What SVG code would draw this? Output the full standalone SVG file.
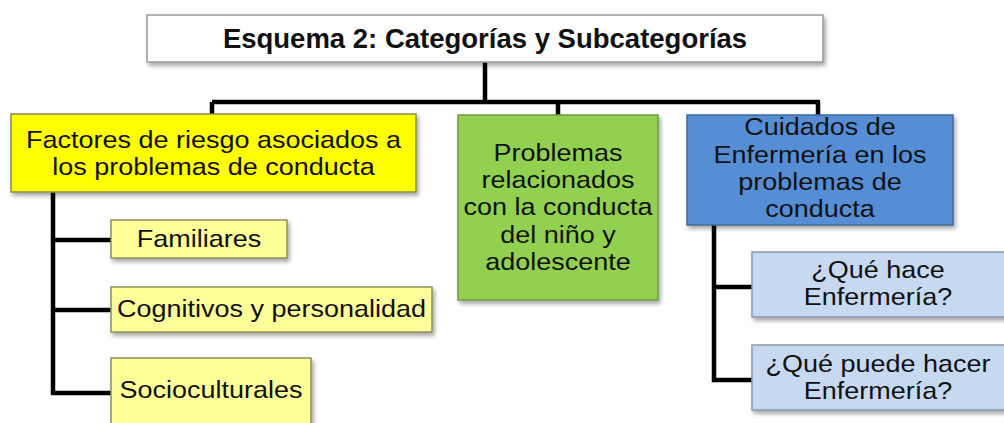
<svg xmlns="http://www.w3.org/2000/svg" width="1004" height="423" viewBox="0 0 1004 423">
<defs>
<filter id="sh" x="-10%" y="-10%" width="130%" height="140%">
<feDropShadow dx="2" dy="3" stdDeviation="2" flood-color="#000" flood-opacity="0.35"/>
</filter>
</defs>
<style>
.t{font-family:"Liberation Sans",Arial,sans-serif;font-size:24px;fill:#111;text-anchor:middle}
.b{font-weight:bold;font-size:27.5px}
.box{filter:url(#sh);stroke-width:1.5}
.conn{fill:none;stroke:#000;stroke-width:4.5;stroke-linejoin:miter}
</style>
<rect width="1004" height="423" fill="#fff"/>
<g id="connectors">
<path class="conn" d="M485 62V102M212 102H820M212 102V115M558 102V115M818 102V115"/>
<path class="conn" d="M53 192V393H111M53 240H111M53 310H111"/>
<path class="conn" d="M714 225V380H752M714 287H752"/>
</g>
<g id="title">
<rect class="box" x="147" y="15" width="676" height="47" fill="#fff" stroke="#9a9a9a"/>
<text class="t b" x="485" y="48">Esquema 2: Categorías y Subcategorías</text>
</g>
<g id="factores">
<rect class="box" x="11" y="114" width="405" height="78" fill="#ffff00" stroke="#8a8a50"/>
<g transform="translate(213.5 0) scale(1.125 1)">
<text class="t" x="0" y="148">Factores de riesgo asociados a</text>
<text class="t" x="0" y="175">los problemas de conducta</text>
</g>
</g>
<g id="familiares">
<rect class="box" x="111" y="220" width="176" height="38" fill="#ffff99" stroke="#8f8f5a"/>
<text class="t" transform="translate(199 0) scale(1.125 1)" x="0" y="247">Familiares</text>
</g>
<g id="cognitivos">
<rect class="box" x="111" y="287" width="321" height="45" fill="#ffff99" stroke="#8f8f5a"/>
<text class="t" transform="translate(271.5 0) scale(1.125 1)" x="0" y="317">Cognitivos y personalidad</text>
</g>
<g id="socioculturales">
<rect class="box" x="111" y="358" width="200" height="80" fill="#ffff99" stroke="#8f8f5a"/>
<text class="t" transform="translate(211 0) scale(1.125 1)" x="0" y="398">Socioculturales</text>
</g>
<g id="problemas">
<rect class="box" x="458" y="115" width="200" height="185" fill="#92d050" stroke="#6f9a45"/>
<g transform="translate(558 0) scale(1.125 1)">
<text class="t" x="0" y="161">Problemas</text>
<text class="t" x="0" y="188">relacionados</text>
<text class="t" x="0" y="215">con la conducta</text>
<text class="t" x="0" y="243">del niño y</text>
<text class="t" x="0" y="270">adolescente</text>
</g>
</g>
<g id="cuidados">
<rect class="box" x="687" y="115" width="266" height="110" fill="#558ed5" stroke="#41699a"/>
<g transform="translate(820 0) scale(1.125 1)">
<text class="t" x="0" y="135">Cuidados de</text>
<text class="t" x="0" y="163">Enfermería en los</text>
<text class="t" x="0" y="190">problemas de</text>
<text class="t" x="0" y="217">conducta</text>
</g>
</g>
<g id="que-hace">
<rect class="box" x="752" y="252" width="256" height="65" fill="#c6d9f1" stroke="#8a98aa"/>
<g transform="translate(878 0) scale(1.125 1)">
<text class="t" x="0" y="278">¿Qué hace</text>
<text class="t" x="0" y="305">Enfermería?</text>
</g>
</g>
<g id="que-puede">
<rect class="box" x="752" y="345" width="256" height="65" fill="#c6d9f1" stroke="#8a98aa"/>
<g transform="translate(878 0) scale(1.125 1)">
<text class="t" x="0" y="372">¿Qué puede hacer</text>
<text class="t" x="0" y="399">Enfermería?</text>
</g>
</g>
</svg>
